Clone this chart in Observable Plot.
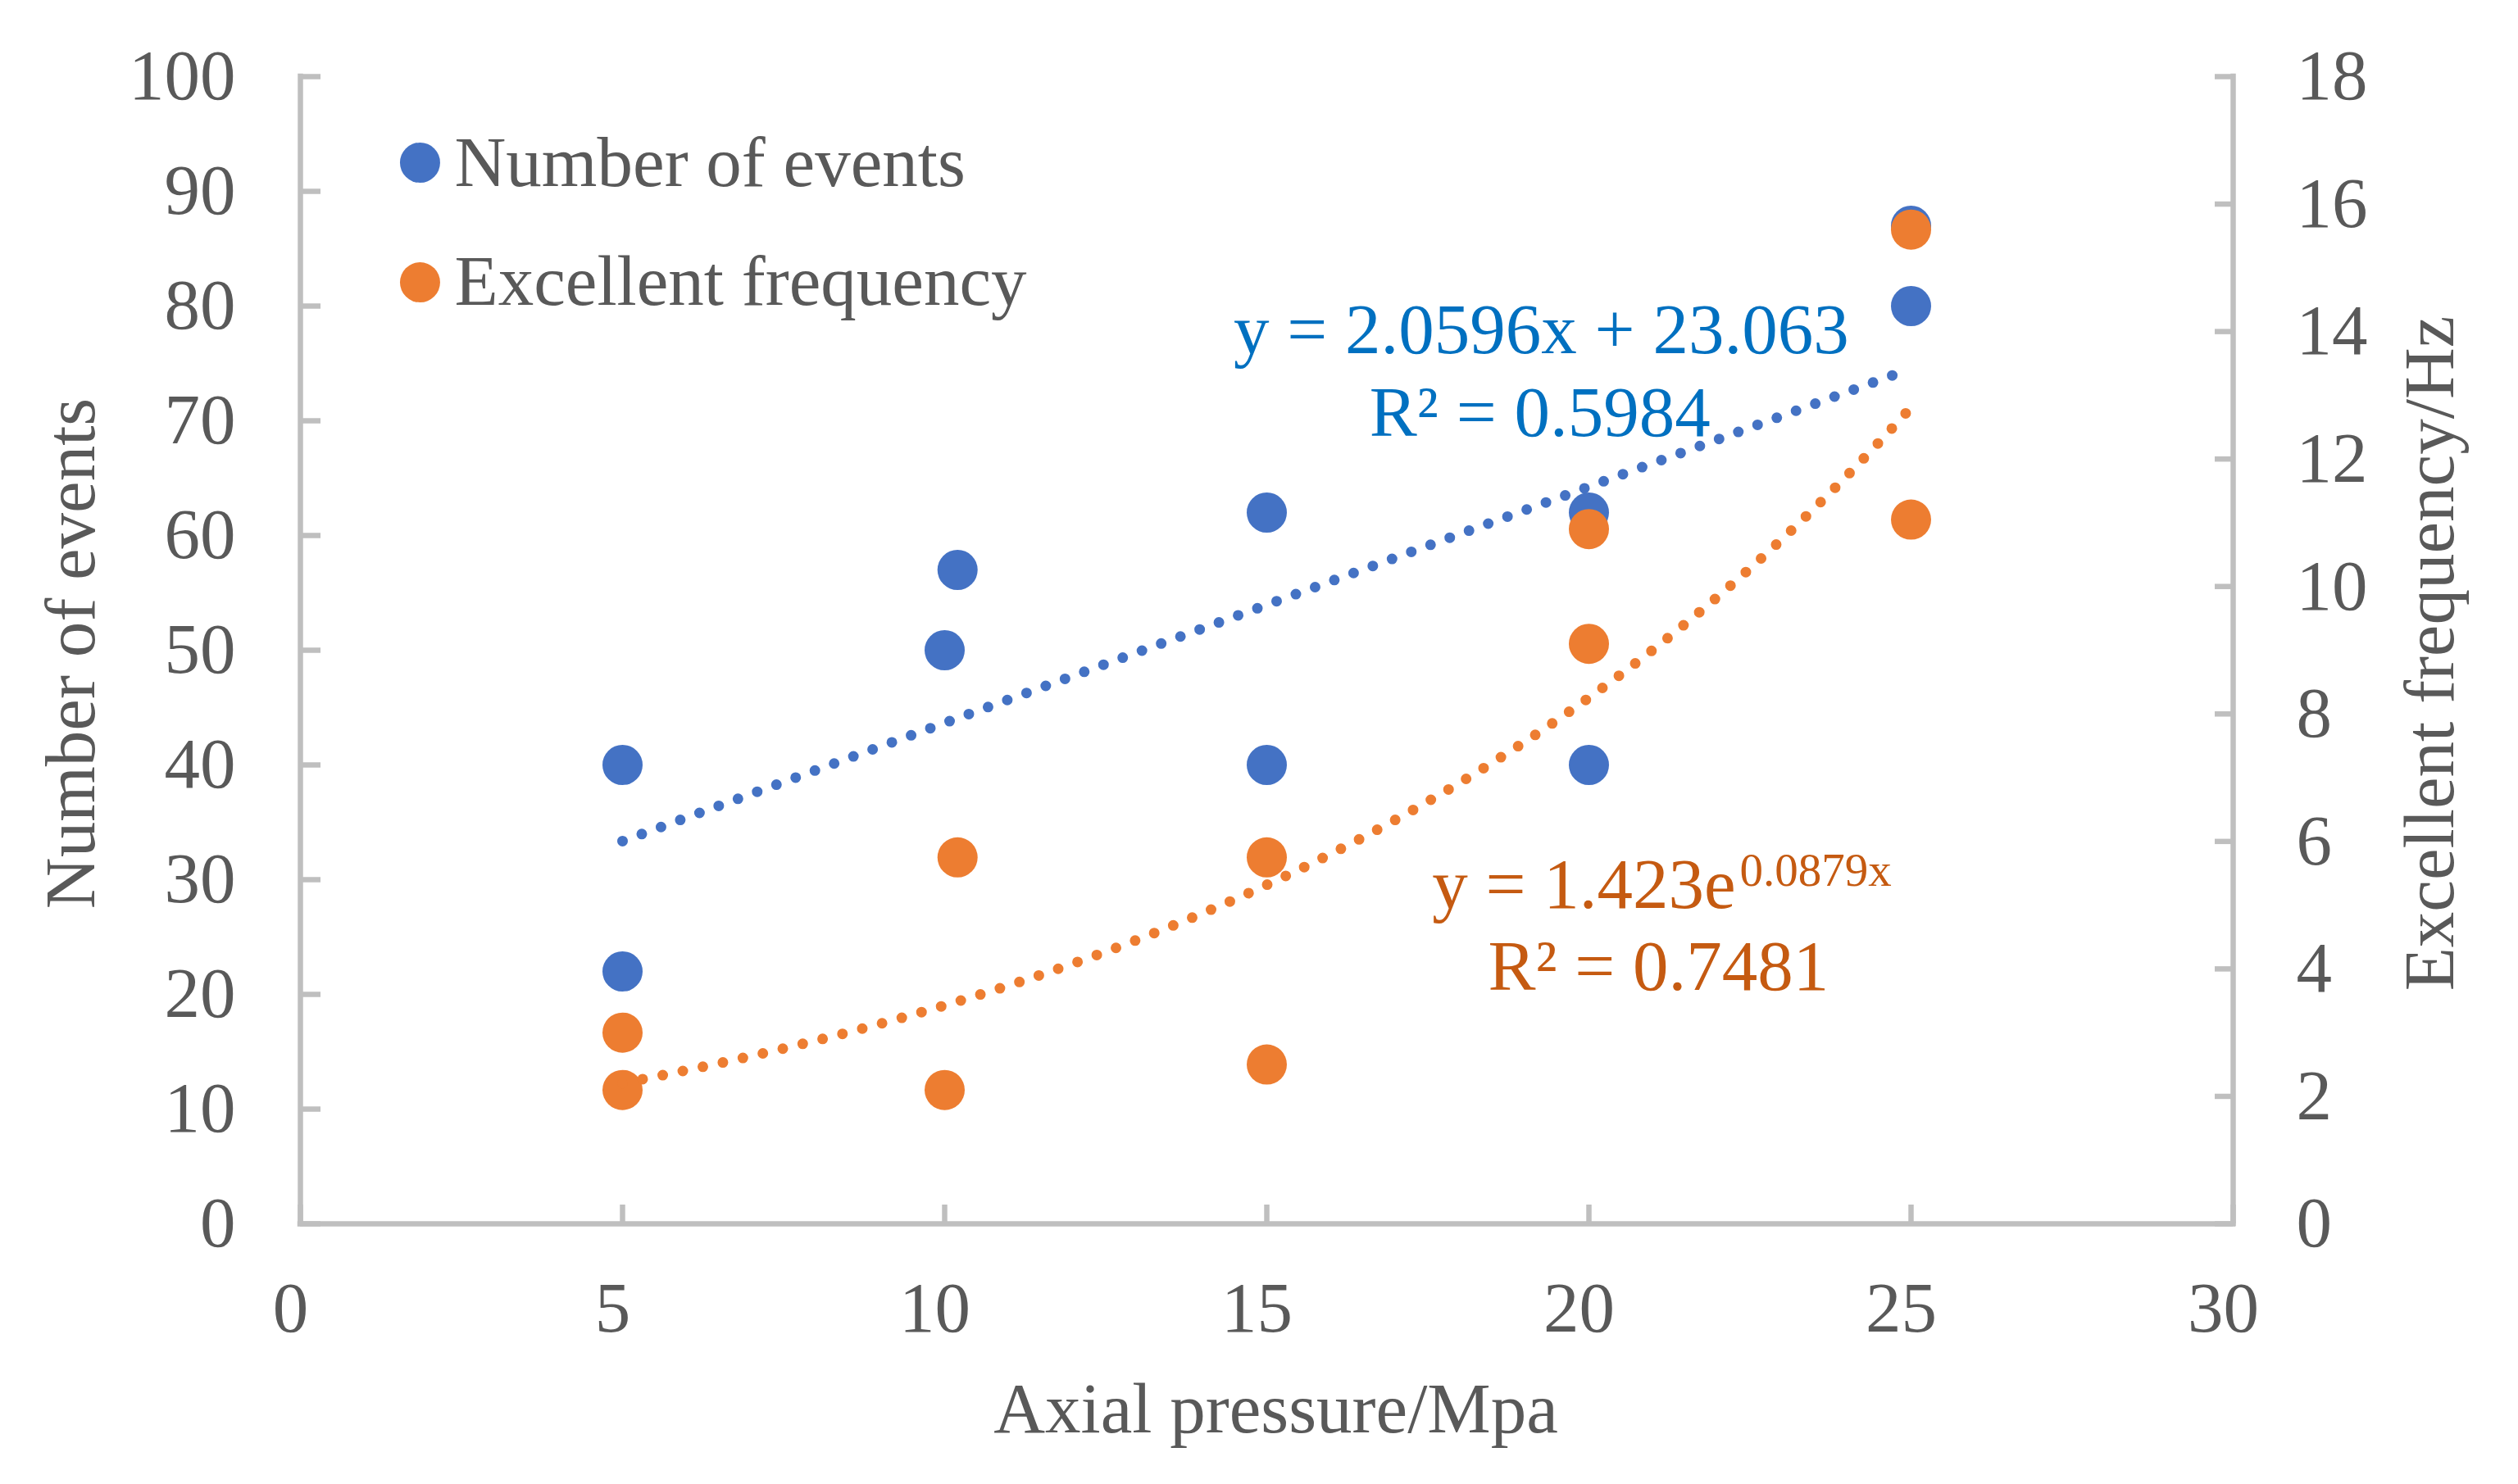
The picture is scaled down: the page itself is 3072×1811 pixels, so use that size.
<!DOCTYPE html>
<html lang="en">
<head>
<meta charset="UTF-8">
<title>Number of events and excellent frequency vs axial pressure</title>
<style>
  body { margin: 0; padding: 0; background: #ffffff; }
  #chart { width: 3072px; height: 1811px; }
</style>
<script src="https://cdn.jsdelivr.net/npm/d3@7"></script>
<script src="https://cdn.jsdelivr.net/npm/@observablehq/plot@0.6"></script>
</head>
<body>
<div id="chart"></div>
<script>
// values
const pressure  = [5, 5, 10, 10.2, 15, 15, 20, 20, 25, 25];
const events    = [40, 22, 50, 57, 62, 40, 62, 40, 87, 80];
const frequency = [3.0, 2.1, 2.1, 5.75, 5.75, 2.5, 10.9, 9.1, 15.6, 11.05];

const seriesNames = ["Number of events", "Excellent frequency"];
const xTicks = [0, 5, 10, 15, 20, 25, 30];
const leftTicks = [0, 10, 20, 30, 40, 50, 60, 70, 80, 90, 100];
const rightTicks = [0, 2, 4, 6, 8, 10, 12, 14, 16, 18];

// trendline coefficients, as printed on the chart
const linearCoef = [2.0596, 23.063];
const expCoef = [1.423, 0.0879];
const fitRange = [5, 25];

// right axis (0-18) is drawn on the left scale (0-100)
const k = 100 / 18;

const blue = "#4472C4", orange = "#ED7D31";
const axisGrey = "#BFBFBF", textGrey = "#595959";
const font = "'Liberation Serif', 'Times New Roman', serif";

const eventRows = pressure.map((x, i) => ({x, y: events[i]}));
const freqRows = pressure.map((x, i) => ({x, y: frequency[i] * k}));
const trendX = d3.range(fitRange[0], fitRange[1] + 0.001, 0.1);

const plotW = 3072 - 366 - 348;
const plotH = 1811 - 93 - 318;

const plot = Plot.plot({
  width: 3072,
  height: 1811,
  marginLeft: 366,
  marginRight: 348,
  marginTop: 93,
  marginBottom: 318,
  x: {domain: [0, 30]},
  y: {domain: [0, 100]},
  style: {fontFamily: font, fontSize: "87px", color: textGrey, background: "#ffffff"},
  marks: [
    // axis lines and inward ticks
    Plot.ruleY([0], {stroke: axisGrey, strokeWidth: 6.5, strokeLinecap: "square"}),
    Plot.ruleX([0, 30], {stroke: axisGrey, strokeWidth: 6.5, strokeLinecap: "square"}),
    Plot.tickY(leftTicks, {y: d => d, stroke: axisGrey, strokeWidth: 6.5, insetRight: plotW - 25}),
    Plot.tickY(rightTicks, {y: d => d * k, stroke: axisGrey, strokeWidth: 6.5, insetLeft: plotW - 22}),
    Plot.tickX(xTicks, {x: d => d, stroke: axisGrey, strokeWidth: 6.5, insetTop: plotH - 23}),

    Plot.axisY(leftTicks, {anchor: "left", tickSize: 0, tickPadding: 79, label: null, fontSize: 87}),
    Plot.axisY(rightTicks.map(d => d * k), {anchor: "right", tickSize: 0, tickPadding: 77, label: null,
      fontSize: 87, tickFormat: d => String(Math.round(d / k))}),
    Plot.axisX(xTicks, {anchor: "bottom", tickSize: 0, tickPadding: 70, dx: -12, label: null, fontSize: 87}),

    // axis titles
    Plot.text(["Axial pressure/Mpa"], {frameAnchor: "bottom", dx: 11, dy: 227, textAnchor: "middle",
      lineAnchor: "middle", fontSize: 87, fill: textGrey}),
    Plot.text(["Number of events"], {frameAnchor: "left", dx: -279, dy: 4, rotate: -90, textAnchor: "middle",
      lineAnchor: "middle", fontSize: 87, fill: textGrey}),
    Plot.text(["Excellent frequency/Hz"], {frameAnchor: "right", dx: 241, dy: 4, rotate: -90, textAnchor: "middle",
      lineAnchor: "middle", fontSize: 87, fill: textGrey}),

    // data points
    Plot.dot(eventRows, {x: "x", y: "y", r: 24.5, fill: blue}),
    Plot.dot(freqRows, {x: "x", y: "y", r: 24.5, fill: orange}),

    // trendlines (round dotted)
    Plot.line(trendX, {x: d => d, y: d => linearCoef[0] * d + linearCoef[1],
      stroke: blue, strokeWidth: 13, strokeDasharray: "0 25", strokeLinecap: "round"}),
    Plot.line(trendX, {x: d => d, y: d => expCoef[0] * Math.exp(expCoef[1] * d) * k,
      stroke: orange, strokeWidth: 13, strokeDasharray: "0 25", strokeLinecap: "round"}),

    // trendline equations
    Plot.text([`y = ${linearCoef[0]}x + ${linearCoef[1]}`], {x: () => 19.26, y: () => 77.9,
      fill: "#0070C0", fontSize: 87, lineAnchor: "middle"}),
    Plot.text(["R² = 0.5984"], {x: () => 19.24, y: () => 70.7, fill: "#0070C0", fontSize: 87, lineAnchor: "middle"}),
    Plot.text([`y = ${expCoef[0]}e`], {x: () => 22.28, y: () => 29.5, textAnchor: "end",
      fill: "#C55A11", fontSize: 87, lineAnchor: "middle"}),
    Plot.text([`${expCoef[1]}x`], {x: () => 22.34, y: () => 30.8, textAnchor: "start",
      fill: "#C55A11", fontSize: 57, lineAnchor: "middle"}),
    Plot.text(["R² = 0.7481"], {x: () => 21.08, y: () => 22.36, fill: "#C55A11", fontSize: 87, lineAnchor: "middle"}),

    // legend
    Plot.dot(seriesNames, {x: () => 1.857, y: (d, i) => [92.5, 82.07][i], r: 24.5, fill: (d, i) => [blue, orange][i]}),
    Plot.text(seriesNames, {x: () => 2.392, y: (d, i) => [92.43, 82.07][i], textAnchor: "start",
      fill: textGrey, fontSize: 87, lineAnchor: "middle"})
  ]
});

document.querySelector("#chart").append(plot);
</script>
</body>
</html>
